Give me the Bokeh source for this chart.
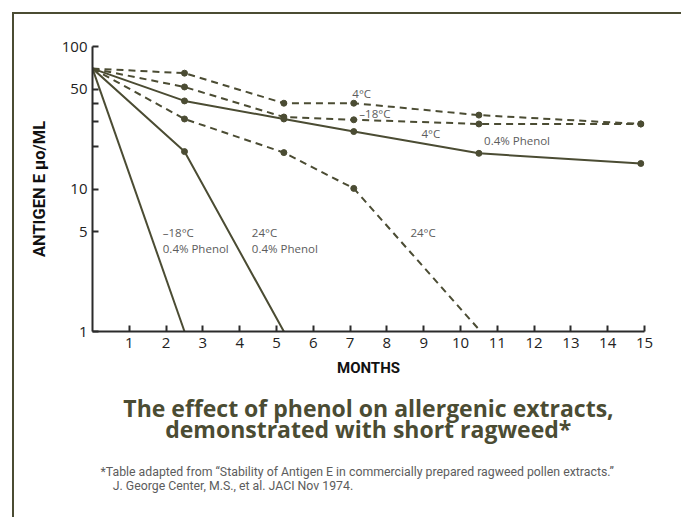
from bokeh.plotting import figure
from bokeh.models import FixedTicker, Label, Title
from bokeh.embed import file_html
from bokeh.resources import INLINE

# ---- data ----
months_full = [0, 2.5, 5.2, 7.1, 10.5, 14.9]
dashed_4c = [70, 65, 40, 40, 33, 28.6]
dashed_m18c = [70, 52, 32.0, 30.6, 28.6, 28.6]
solid_4c_phenol = [70, 41.5, 31.0, 25.3, 17.8, 15.1]

months_24c = [0, 2.5, 5.2, 7.1, 10.55]
dashed_24c = [70, 31, 18, 10.1, 1]

months_24c_phenol = [0, 2.5, 5.2]
solid_24c_phenol = [70, 18.3, 1]

months_m18c_phenol = [0, 2.5]
solid_m18c_phenol = [70, 1]

x_ticks = list(range(1, 16))
y_ticks = [1, 5, 10, 20, 30, 40, 50, 100]
y_tick_labels = {1: "1", 5: "5", 10: "10", 20: "", 30: "", 40: "", 50: "50", 100: "100"}

LINE = "#4b4c33"
TXT = "#5c5c5c"
AX = "#2b2b2b"

SH = 14  # canvas offset inside the bordered box
W, H = 669, 505

p = figure(width=W, height=H, x_range=(0, 15), y_range=(1, 100),
           y_axis_type="log", output_backend="svg", toolbar_location=None,
           min_border_left=92 - SH, min_border_right=W - (644 - SH),
           min_border_top=46 - SH, min_border_bottom=H - (331 - SH))
p.margin = (12, 0, 0, 12)
p.styles = {"border-left": "2px solid #4b4c33", "border-top": "2px solid #4b4c33"}
p.outline_line_color = None
p.grid.visible = False
p.background_fill_color = "white"
p.border_fill_color = "white"

for ax in (p.xaxis[0], p.yaxis[0]):
    ax.axis_line_color = AX
    ax.axis_line_width = 2
    ax.major_tick_line_color = AX
    ax.major_tick_line_width = 2
    ax.major_tick_in = 6
    ax.major_tick_out = 0
    ax.minor_tick_line_color = None
    ax.major_label_text_font = "Open Sans"
    ax.major_label_text_font_size = "15px"
    ax.major_label_text_color = "#222222"
    ax.axis_label_text_font = "Roboto"
    ax.axis_label_text_font_style = "bold"
    ax.axis_label_text_color = "#111111"

p.xaxis.ticker = FixedTicker(ticks=x_ticks)
p.xaxis.major_label_standoff = 6
p.xaxis.axis_label = "MONTHS"
p.xaxis.axis_label_text_font_size = "15px"
p.xaxis.axis_label_standoff = 8

p.yaxis.ticker = FixedTicker(ticks=y_ticks)
p.yaxis.major_label_overrides = y_tick_labels
p.yaxis.major_label_standoff = 5
p.yaxis.axis_label = "ANTIGEN E μo/ML"
p.yaxis.axis_label_text_font_size = "16.5px"
p.yaxis.axis_label_standoff = 10

# ---- series ----
def series(xs, ys, dash, marker_slice):
    p.line(xs, ys, line_color=LINE, line_width=2, line_dash=dash)
    mx, my = xs[marker_slice], ys[marker_slice]
    if mx:
        p.scatter(mx, my, size=6, color=LINE)

series(months_full, dashed_4c, "7 5", slice(1, None))
series(months_full, dashed_m18c, "7 5", slice(1, None))
series(months_full, solid_4c_phenol, "solid", slice(1, None))
series(months_24c, dashed_24c, "7 5", slice(1, 4))
series(months_24c_phenol, solid_24c_phenol, "solid", slice(1, 2))
series(months_m18c_phenol, solid_m18c_phenol, "solid", slice(0, 0))

# ---- in-plot labels ----
def lab(x, y, t):
    p.add_layout(Label(x=x, y=y, text=t, text_font="Open Sans", text_font_size="11.5px",
                       text_color=TXT, text_baseline="middle", text_align="left"))

lab(7.06, 47, "4°C")
lab(7.25, 34, "–18°C")
lab(8.94, 24.4, "4°C")
lab(10.64, 21.9, "0.4% Phenol")
lab(1.91, 4.98, "–18°C")
lab(1.91, 3.84, "0.4% Phenol")
lab(4.33, 4.98, "24°C")
lab(4.33, 3.84, "0.4% Phenol")
lab(8.64, 4.98, "24°C")

# ---- title and footnote under the x axis ----
NB = "\u00a0"
p.add_layout(Title(text="The effect of phenol on allergenic extracts,\n" + NB * 7 + "demonstrated with short ragweed*",
                   align="center", standoff=21, text_line_height=0.67,
                   text_font="Open Sans", text_font_size="23px", text_font_style="bold",
                   text_color=LINE), "below")

p.add_layout(Title(text="*Table adapted from “Stability of Antigen E in commercially prepared ragweed pollen extracts.”\n"
                        + NB * 4 + "J. George Center, M.S., et al. JACI Nov 1974.",
                   align="left", offset=8, standoff=15, text_line_height=1.0,
                   text_font="Roboto", text_font_size="12.3px", text_font_style="normal",
                   text_color=TXT), "below")

open("out.html", "w").write(file_html(p, INLINE))
